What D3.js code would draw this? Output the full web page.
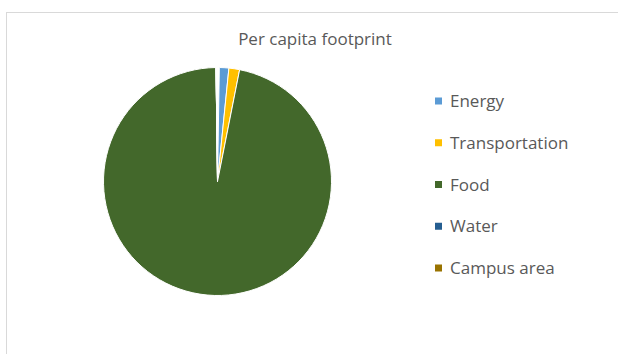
<!DOCTYPE html>
<html>
<head>
<meta charset="utf-8">
<script src="https://cdn.jsdelivr.net/npm/d3@7"></script>
<style>
  body { margin: 0; background: #fff; }
  text { font-family: "Open Sans", sans-serif; fill: #595959; }
</style>
</head>
<body>
<svg id="chart" width="618" height="354"></svg>
<script>
const categories = ['Energy', 'Transportation', 'Food', 'Water', 'Campus area'];
const footprint = [1.35, 1.52, 97.1, 0, 0];
const colors = ['#5B9BD5', '#FFC000', '#43682B', '#255E91', '#997300'];
const titleText = 'Per capita footprint';

const svg = d3.select('#chart');

// chart frame (runs off the right and bottom edges)
svg.append('rect')
  .attr('x', 6.5).attr('y', 12.5)
  .attr('width', 640).attr('height', 360)
  .attr('fill', '#fff')
  .attr('stroke', '#d9d9d9');

svg.append('text')
  .attr('x', 315).attr('y', 45)
  .attr('text-anchor', 'middle')
  .style('font-size', '17px')
  .text(titleText);

const cx = 217.5;
const cy = 181.5;
const radius = 114;

// small white wedge left at 12 o'clock as in the reference
const pie = d3.pie().sort(null)
  .startAngle(0.016)
  .endAngle(2 * Math.PI - 0.013);
const arc = d3.arc().innerRadius(0).outerRadius(radius);

const data = categories.map((c, i) => ({ name: c, value: footprint[i], color: colors[i] }));

svg.append('g')
  .attr('transform', `translate(${cx},${cy})`)
  .selectAll('path')
  .data(pie.value((d) => d.value)(data))
  .join('path')
  .attr('d', arc)
  .attr('fill', (d) => d.data.color)
  .attr('stroke', '#fff')
  .attr('stroke-width', 1);

// legend
const legendY = d3.scalePoint().domain(categories).range([101, 268]);
const legend = svg.append('g').selectAll('g')
  .data(data)
  .join('g')
  .attr('transform', (d) => `translate(435,${legendY(d.name)})`);
legend.append('rect')
  .attr('x', 0).attr('y', -3.5)
  .attr('width', 7).attr('height', 7)
  .attr('fill', (d) => d.color);
legend.append('text')
  .attr('x', 15).attr('y', 6)
  .style('font-size', '17px')
  .text((d) => d.name);
</script>
</body>
</html>
